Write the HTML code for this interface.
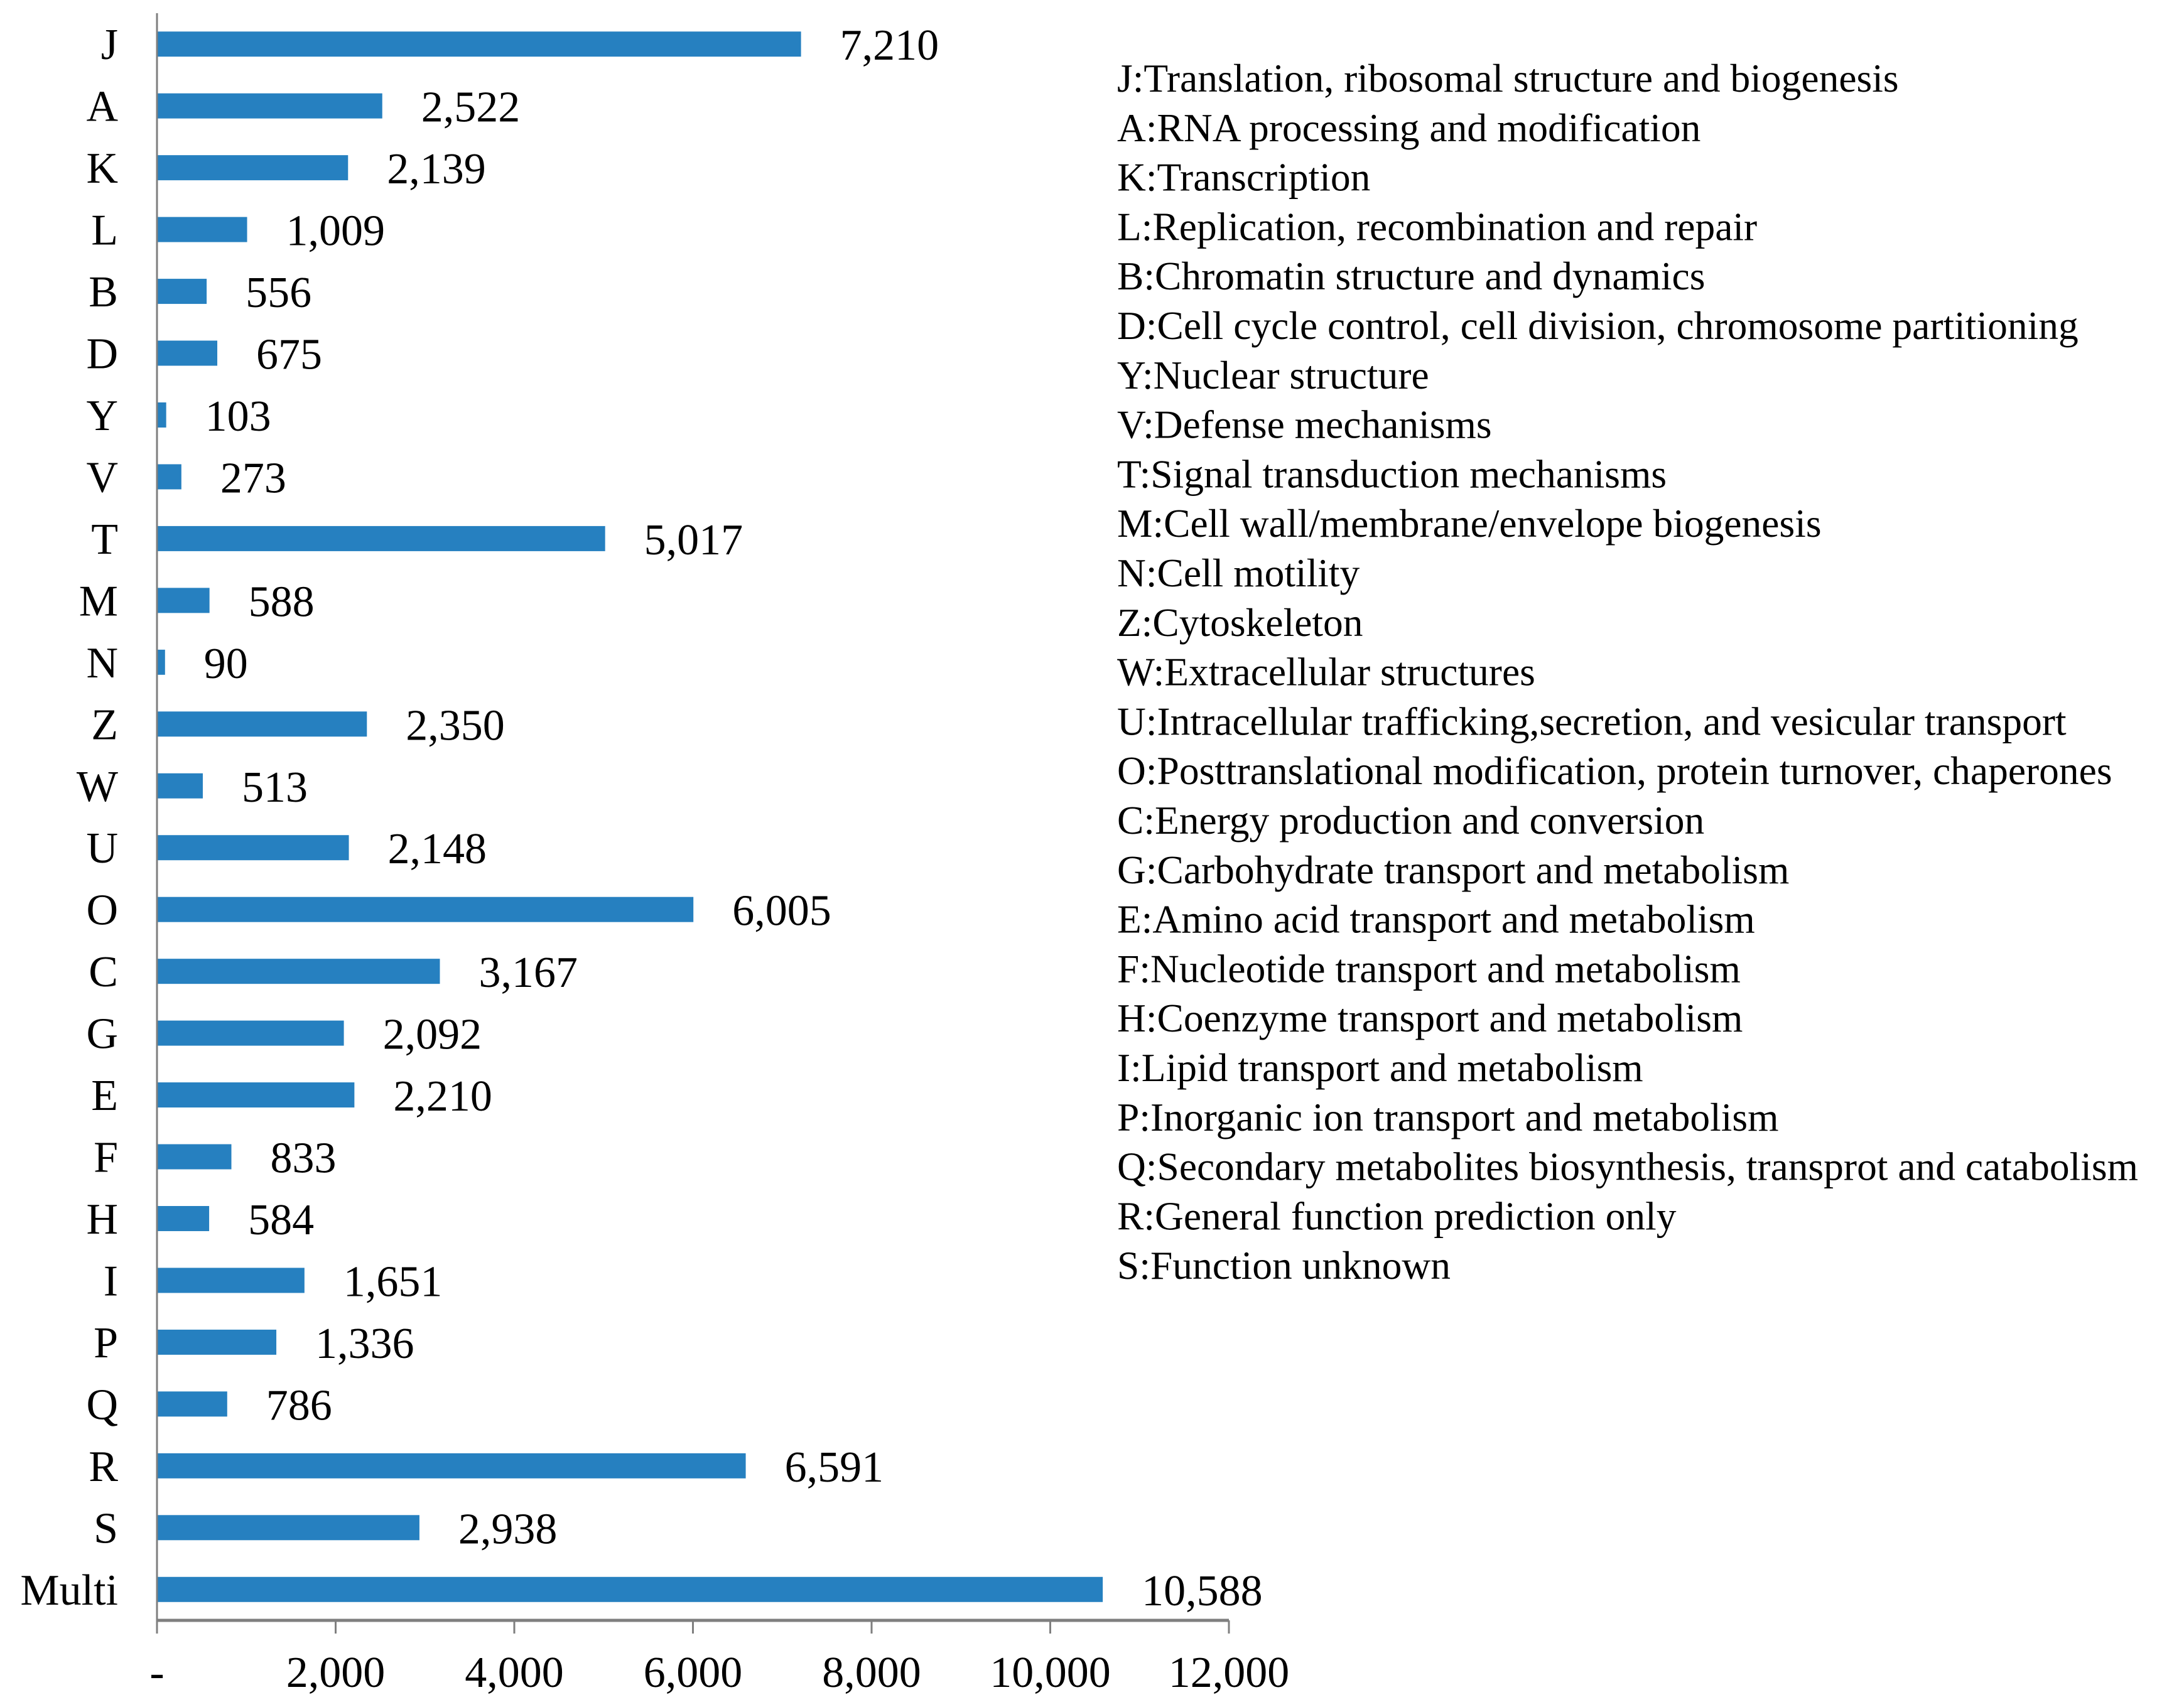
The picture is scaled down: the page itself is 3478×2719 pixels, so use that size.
<!DOCTYPE html>
<html><head><meta charset="utf-8"><style>
html,body{margin:0;padding:0;background:#fff;}
svg{display:block;}
text{font-family:"Liberation Serif",serif;fill:#000;}
</style></head><body>
<svg id="chart" width="3478" height="2719" viewBox="0 0 3478 2719" xmlns="http://www.w3.org/2000/svg">
<g id="bars"></g>
<g id="axes"></g>
<g id="legend"></g>
</svg>
<script>
const categories = ["J","A","K","L","B","D","Y","V","T","M","N","Z","W","U","O","C","G","E","F","H","I","P","Q","R","S","Multi"];
const values = [7210,2522,2139,1009,556,675,103,273,5017,588,90,2350,513,2148,6005,3167,2092,2210,833,584,1651,1336,786,6591,2938,10588];
const valueLabels = ["7,210","2,522","2,139","1,009","556","675","103","273","5,017","588","90","2,350","513","2,148","6,005","3,167","2,092","2,210","833","584","1,651","1,336","786","6,591","2,938","10,588"];
const tickValues = [0,2000,4000,6000,8000,10000,12000];
const tickLabels = ["-","2,000","4,000","6,000","8,000","10,000","12,000"];
const legendItems = ["J:Translation, ribosomal structure and biogenesis","A:RNA processing and modification","K:Transcription","L:Replication, recombination and repair","B:Chromatin structure and dynamics","D:Cell cycle control, cell division, chromosome partitioning","Y:Nuclear structure","V:Defense mechanisms","T:Signal transduction mechanisms","M:Cell wall/membrane/envelope biogenesis","N:Cell motility","Z:Cytoskeleton","W:Extracellular structures","U:Intracellular trafficking,secretion, and vesicular transport","O:Posttranslational modification, protein turnover, chaperones","C:Energy production and conversion","G:Carbohydrate transport and metabolism","E:Amino acid transport and metabolism","F:Nucleotide transport and metabolism","H:Coenzyme transport and metabolism","I:Lipid transport and metabolism","P:Inorganic ion transport and metabolism","Q:Secondary metabolites biosynthesis, transprot and catabolism","R:General function prediction only","S:Function unknown"];

const NS="http://www.w3.org/2000/svg";
const X0=250, X1=1957, XMAX=12000, YTOP=21, YBOT=2581;
const band=(YBOT-YTOP)/categories.length;
const x=v=>X0+(v/XMAX)*(X1-X0);
const yc=i=>YTOP+band*(i+0.5);
function mk(tag,attrs,parent,txt){const e=document.createElementNS(NS,tag);for(const k in attrs)e.setAttribute(k,attrs[k]);if(txt!==undefined)e.textContent=txt;parent.appendChild(e);return e;}
const gb=document.getElementById('bars'), ga=document.getElementById('axes'), gl=document.getElementById('legend');

categories.forEach((c,i)=>{
  const r=mk('rect',{x:X0,y:yc(i)-20,width:x(values[i])-X0,height:40,fill:'#2680c0'},gb);
  
  
  const t=mk('text',{x:x(values[i])+62,y:yc(i)+25,'font-size':70},gb,valueLabels[i]);
  
  
  const l=mk('text',{x:188,y:yc(i)+24,'font-size':70,'text-anchor':'end'},ga,c);
  
  
});
const yl=mk('line',{x1:X0,y1:YTOP,x2:X0,y2:YBOT,stroke:'#7f7f7f','stroke-width':3},ga);


const xl=mk('line',{x1:X0,y1:YBOT,x2:X1,y2:YBOT,stroke:'#7f7f7f','stroke-width':5},ga);


tickValues.forEach((v,i)=>{
  const tk=mk('line',{x1:x(v),y1:YBOT,x2:x(v),y2:YBOT+21,stroke:'#7f7f7f','stroke-width':3},ga);
  
  
  const tl=mk('text',{x:x(v),y:2687,'font-size':70,'text-anchor':'middle'},ga,tickLabels[i]);
  
  
});
legendItems.forEach((s,i)=>{
  const t=mk('text',{x:1779,y:146+i*78.8,'font-size':63.5},gl,s);
  
  
});
</script>
</body></html>
